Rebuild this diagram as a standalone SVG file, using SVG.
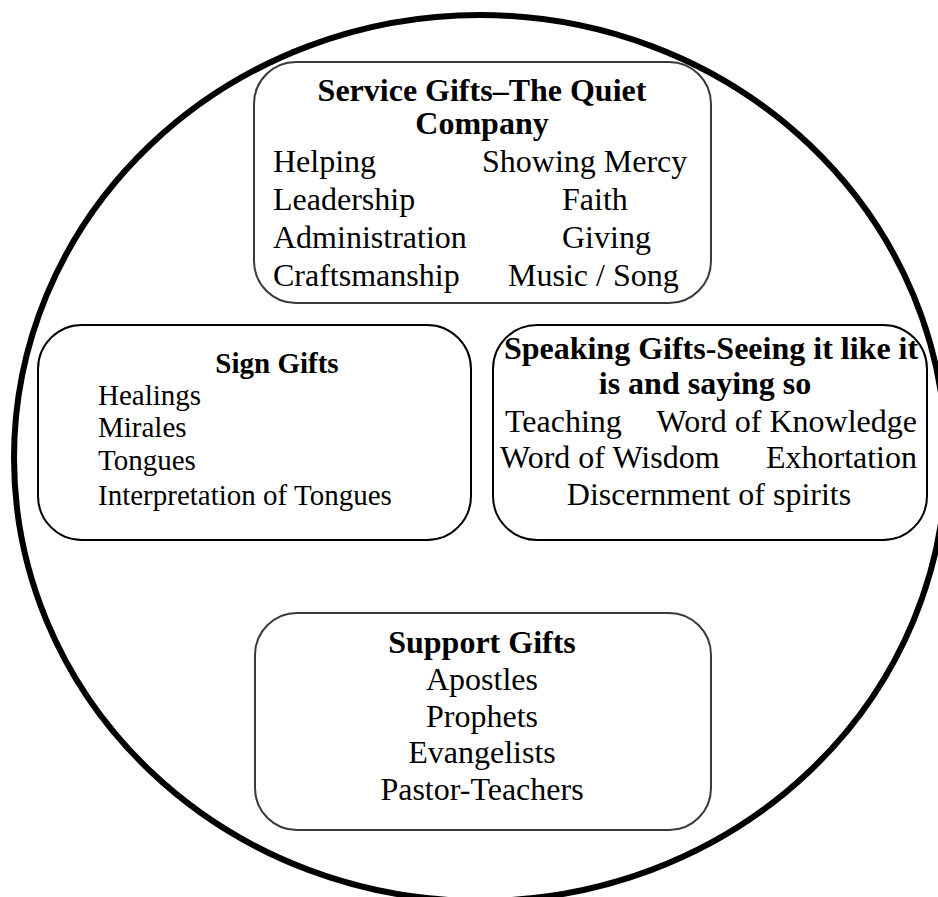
<svg xmlns="http://www.w3.org/2000/svg" width="938" height="897" viewBox="0 0 938 897">
<style>
text{font-family:"Liberation Serif","Times New Roman",serif;fill:#000}
.b{font-weight:bold}
.f32{font-size:32px}
.f29{font-size:29px}
.c{text-anchor:middle}
.e{text-anchor:end}
.box{fill:#fff;stroke:#000;stroke-width:2}
.gbox{fill:#fff;stroke:#3a3a3a;stroke-width:2}
</style>
<rect width="938" height="897" fill="#fff"/>
<g id="outer">
<ellipse cx="480" cy="458" rx="466" ry="443" fill="none" stroke="#000" stroke-width="6"/>
</g>
<g id="connectors"></g>
<g id="service">
<rect class="gbox" x="254" y="62" width="457" height="241" rx="42"/>
<text class="f32 b c" x="482" y="101">Service Gifts–The Quiet</text>
<text class="f32 b c" x="482" y="134">Company</text>
<text class="f32" x="273" y="172">Helping</text>
<text class="f32" x="273" y="210">Leadership</text>
<text class="f32" x="273" y="248">Administration</text>
<text class="f32" x="273" y="286">Craftsmanship</text>
<text class="f32" x="482" y="172">Showing Mercy</text>
<text class="f32" x="562" y="210">Faith</text>
<text class="f32" x="562" y="248">Giving</text>
<text class="f32" x="508" y="286">Music / Song</text>
</g>
<g id="sign">
<rect class="box" x="38" y="325" width="433" height="215" rx="44"/>
<text class="f29 b c" x="277" y="373">Sign Gifts</text>
<text class="f29" x="98" y="405">Healings</text>
<text class="f29" x="98" y="437">Mirales</text>
<text class="f29" x="98" y="470">Tongues</text>
<text class="f29" x="98" y="505">Interpretation of Tongues</text>
</g>
<g id="speaking">
<rect class="box" x="493" y="325" width="434" height="215" rx="44"/>
<text class="f32 b c" x="711" y="359">Speaking Gifts-Seeing it like it</text>
<text class="f32 b c" x="705" y="394">is and saying so</text>
<text class="f32" x="505" y="432">Teaching</text>
<text class="f32 e" x="917" y="432">Word of Knowledge</text>
<text class="f32" x="500" y="468">Word of Wisdom</text>
<text class="f32 e" x="917" y="468">Exhortation</text>
<text class="f32 c" x="709" y="505">Discernment of spirits</text>
</g>
<g id="support">
<rect class="gbox" x="255" y="613" width="456" height="217" rx="42"/>
<text class="f32 b c" x="482" y="653">Support Gifts</text>
<text class="f32 c" x="482" y="690">Apostles</text>
<text class="f32 c" x="482" y="727">Prophets</text>
<text class="f32 c" x="482" y="763">Evangelists</text>
<text class="f32 c" x="482" y="800">Pastor-Teachers</text>
</g>
</svg>
